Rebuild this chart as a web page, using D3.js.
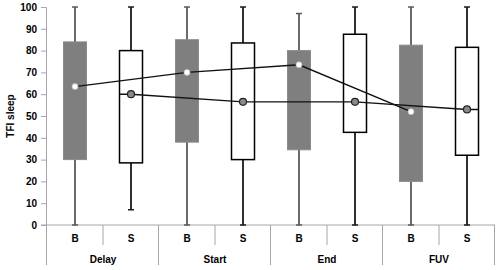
<!DOCTYPE html>
<html>
<head>
<meta charset="utf-8">
<script src="https://cdn.jsdelivr.net/npm/d3@7"></script>
<style>
  body { margin: 0; background: #fff; }
  svg text { font-family: "Liberation Sans", Arial, sans-serif; font-weight: bold; fill: #000; }
</style>
</head>
<body>
<div id="chart"></div>
<script>

  // *** DATA ***
  let groups = ["Delay", "Start", "End", "FUV"]
  let series = ["B", "S"]
  // per group, B then S
  let whiskerLow  = [0, 7, 0, 0, 0, 0, 0, 0]
  let boxLow      = [30, 28.5, 38, 30, 34.5, 42.5, 20, 32]
  let boxHigh     = [84, 80, 85, 83.5, 80, 87.5, 82.5, 81.5]
  let whiskerHigh = [100, 100, 100, 100, 97, 100, 100, 100]
  let means       = [63.5, 60, 70, 56.5, 73.5, 56.5, 52, 53]
  let yTicks = [0, 10, 20, 30, 40, 50, 60, 70, 80, 90, 100]

  // *** SETTINGS ***
  let width = 500, height = 270
  let plot = {left: 47, right: 495, top: 7, bottom: 225}
  let boxWidth = 23, capWidth = 6
  let colors = {bBox: "#7f7f7f", bWhisker: "#595959", sWhisker: "#1a1a1a", grid: "#a6a6a6", line: "#111"}

  let cats = []
  groups.forEach(g => series.forEach(s => cats.push(g + "|" + s)))
  let data = cats.map((c, i) => ({
    key: c, group: c.split("|")[0], s: c.split("|")[1],
    wl: whiskerLow[i], bl: boxLow[i], bh: boxHigh[i], wh: whiskerHigh[i], mean: means[i]
  }))

  let svg = d3.select("#chart").append("svg")
    .attr("width", width).attr("height", height)

  let x = d3.scaleBand().domain(cats).range([plot.left, plot.right])
  let xg = d3.scaleBand().domain(groups).range([plot.left, plot.right])
  let y = d3.scaleLinear().domain([0, 100]).range([plot.bottom, plot.top])
  let cx = d => x(d.key) + x.bandwidth() / 2

  // y axis
  let yAxis = svg.append("g")
    .attr("transform", `translate(${plot.left - 1},0)`)
    .call(d3.axisLeft(y).tickValues(yTicks).tickSize(5).tickPadding(4))
  yAxis.select(".domain").attr("stroke", colors.grid)
  yAxis.selectAll(".tick line").attr("stroke", colors.grid)
  yAxis.selectAll(".tick text").style("font-size", "10px")
    .style("font-family", "'Liberation Sans', Arial, sans-serif").style("font-weight", "bold")

  svg.append("text")
    .attr("transform", `translate(14,${(plot.top + plot.bottom) / 2}) rotate(-90)`)
    .attr("text-anchor", "middle")
    .style("font-size", "10px")
    .text("TFI sleep")

  // x axis line + separators
  svg.append("line")
    .attr("x1", plot.left - 6).attr("x2", plot.right)
    .attr("y1", plot.bottom).attr("y2", plot.bottom)
    .attr("stroke", colors.grid)

  let seps = svg.append("g").attr("class", "seps")
  groups.forEach(g => {
    seps.append("line")
      .attr("x1", xg(g) - 0.5).attr("x2", xg(g) - 0.5)
      .attr("y1", plot.bottom).attr("y2", plot.bottom + 40)
      .attr("stroke", colors.grid)
    seps.append("line")
      .attr("x1", xg(g) + xg.bandwidth() / 2).attr("x2", xg(g) + xg.bandwidth() / 2)
      .attr("y1", plot.bottom).attr("y2", plot.bottom + 20)
      .attr("stroke", colors.grid)
  })
  seps.append("line")
    .attr("x1", plot.right - 0.5).attr("x2", plot.right - 0.5)
    .attr("y1", plot.bottom).attr("y2", plot.bottom + 40)
    .attr("stroke", colors.grid)

  svg.append("g").selectAll("text")
    .data(data).enter().append("text")
    .attr("x", cx).attr("y", plot.bottom + 17)
    .attr("text-anchor", "middle").style("font-size", "10px")
    .text(d => d.s)

  svg.append("g").selectAll("text")
    .data(groups).enter().append("text")
    .attr("x", g => xg(g) + xg.bandwidth() / 2).attr("y", plot.bottom + 38)
    .attr("text-anchor", "middle").style("font-size", "10px")
    .text(g => g)

  // whiskers
  let wcol = d => d.s == "B" ? colors.bWhisker : colors.sWhisker
  let whiskers = svg.append("g").attr("class", "whiskers")
  whiskers.selectAll("line.w")
    .data(data).enter().append("line")
    .attr("x1", cx).attr("x2", cx)
    .attr("y1", d => y(d.wl)).attr("y2", d => y(d.wh))
    .attr("stroke", wcol).attr("stroke-width", 1.8)
  whiskers.selectAll("line.ct")
    .data(data).enter().append("line")
    .attr("x1", d => cx(d) - capWidth / 2).attr("x2", d => cx(d) + capWidth / 2)
    .attr("y1", d => y(d.wh)).attr("y2", d => y(d.wh))
    .attr("stroke", wcol).attr("stroke-width", 1.5)
  whiskers.selectAll("line.cb")
    .data(data).enter().append("line")
    .attr("x1", d => cx(d) - capWidth / 2).attr("x2", d => cx(d) + capWidth / 2)
    .attr("y1", d => y(d.wl)).attr("y2", d => y(d.wl))
    .attr("stroke", wcol).attr("stroke-width", 1.5)

  // boxes
  svg.append("g").selectAll("rect")
    .data(data).enter().append("rect")
    .attr("x", d => cx(d) - boxWidth / 2)
    .attr("y", d => y(d.bh))
    .attr("width", boxWidth)
    .attr("height", d => y(d.bl) - y(d.bh))
    .attr("fill", d => d.s == "B" ? colors.bBox : "#fff")
    .attr("stroke", d => d.s == "B" ? "#8c8c8c" : "#000")
    .attr("stroke-width", d => d.s == "B" ? 1 : 1.5)

  // mean lines
  let line = d3.line().x(d => d[0]).y(d => d[1])
  let bData = data.filter(d => d.s == "B")
  let sData = data.filter(d => d.s == "S")
  svg.append("path")
    .attr("d", line(bData.map(d => [cx(d), y(d.mean)])))
    .attr("fill", "none").attr("stroke", colors.line).attr("stroke-width", 1.4)
  let sPts = sData.map(d => [cx(d), y(d.mean)])
  sPts.unshift([cx(sData[0]) - boxWidth / 2, y(sData[0].mean)])
  sPts.push([cx(sData[sData.length - 1]) + boxWidth / 2, y(sData[sData.length - 1].mean)])
  svg.append("path")
    .attr("d", line(sPts))
    .attr("fill", "none").attr("stroke", colors.line).attr("stroke-width", 1.4)

  // markers
  svg.append("g").selectAll("circle")
    .data(bData).enter().append("circle")
    .attr("cx", cx).attr("cy", d => y(d.mean)).attr("r", 3)
    .attr("fill", "#fff").attr("stroke", "#bbb").attr("stroke-width", 0.8)
  svg.append("g").selectAll("circle")
    .data(sData).enter().append("circle")
    .attr("cx", cx).attr("cy", d => y(d.mean)).attr("r", 3.5)
    .attr("fill", "#8a8a8a").attr("stroke", "#222").attr("stroke-width", 1.2)

</script>
</body>
</html>
